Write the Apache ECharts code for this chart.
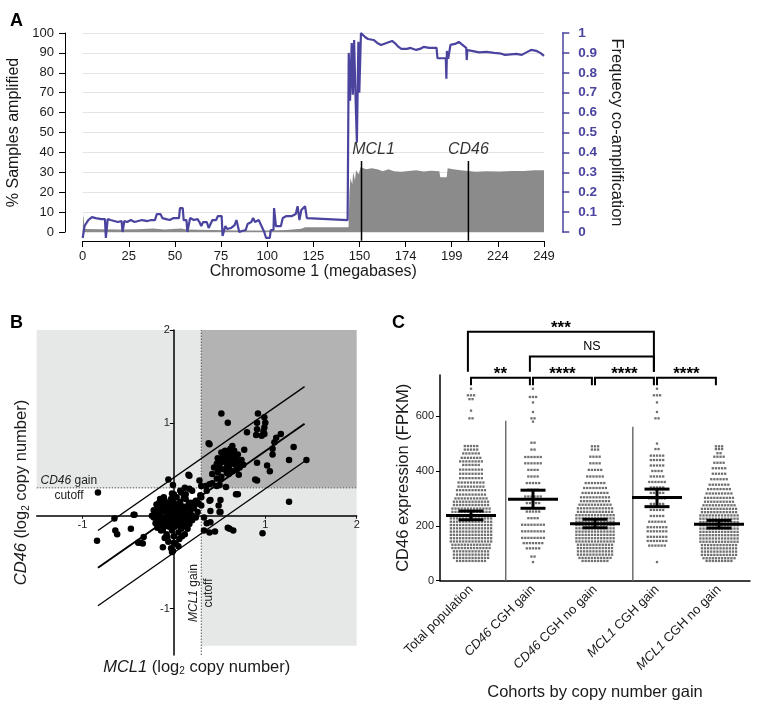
<!DOCTYPE html>
<html><head><meta charset="utf-8">
<script src="https://cdn.jsdelivr.net/npm/echarts@6/dist/echarts.min.js"></script>
<style>html,body{margin:0;padding:0;background:#fff}#c{width:767px;height:715px}</style>
</head><body><div id="c"></div>
<script>
// ---------------- Panel A data ----------------
const chrTickPos = [0, 24.9, 49.8, 74.7, 99.6, 124.5, 149.4, 174.3, 199.2, 224.1, 249];
const chrTickLabels = ['0', '25', '50', '75', '100', '125', '150', '174', '199', '224', '249'];
// % samples amplified (grey area) [Mb, %]
const ampPercent = [[0,0],[0.3,9],[0.9,9],[1.1,1.5],[10,1.4],[20,1.2],[30,1.4],[38,1.8],[44,1.3],[53,1.7],[56,1.2],[70,1.0],[85,0.8],[100,0.8],[110,1.0],[118,1.6],[120,2.4],[143.5,2.4],[144,20],[144.5,27],[145.5,24],[146,30],[147,26],[147.5,31],[149,29],[150,32.5],[153,31.5],[156,32],[159,31.5],[162,30.5],[165,31.5],[168,30.5],[172,30.3],[176,30.6],[180,31],[184,30.4],[188,30.8],[192.5,30.5],[193,27.5],[196.5,27.5],[197,32],[200,31.5],[204,31],[208,30.6],[212,30.3],[218,30.5],[225,30.4],[232,30.6],[238,30.7],[244,31],[249,31]];
// frequency of co-amplification (blue line) [Mb, freq]
const coAmpFreq = [[0,-0.03],[0.5,0.0],[1,0.03],[2,0.04],[3,0.06],[5,0.075],[7,0.07],[8,0.06],[10,0.065],[12,0.065],[12.5,-0.03],[13.3,-0.03],[13.5,0.065],[15,0.06],[17,0.055],[19,0.05],[21,0.055],[21.5,0.0],[22.2,0.0],[22.5,0.055],[24,0.05],[26,0.06],[28,0.05],[30,0.055],[32,0.06],[33,0.05],[35,0.055],[37,0.06],[39,0.06],[40,0.09],[42,0.09],[43,0.07],[45,0.065],[47,0.06],[49,0.07],[50,0.06],[52,0.07],[52.5,0.12],[54,0.12],[54.5,0.06],[56,0.06],[56.5,0.0],[57.5,0.0],[58,0.07],[60,0.06],[62,0.065],[63,0.05],[64,0.03],[65,0.05],[67,0.05],[68,0.02],[69,0.04],[70,0.06],[72,0.06],[73,0.08],[75,0.08],[75.5,-0.02],[76.5,-0.02],[77,0.03],[78,0.015],[80,0.02],[82,0.035],[83,0.06],[84,0.06],[84.5,0.0],[86,0.005],[88,0.01],[89,0.04],[91,0.05],[92,0.07],[93,0.05],[95,0.06],[96,0.04],[97,0.03],[98,0.0],[99,-0.03],[101,-0.03],[101.5,0.01],[103,0.01],[103.3,0.12],[104,0.12],[104.3,0.03],[107,0.03],[108,0.07],[110,0.08],[113,0.08],[115,0.09],[116,0.13],[117,0.06],[118,0.11],[119,0.1],[120,0.13],[121,0.07],[121.5,0.06],[143,0.06],[143.4,0.05],[143.6,0.9],[144.3,0.66],[145.2,0.95],[145.8,0.69],[146.5,0.965],[147.2,0.7],[148,0.45],[148.8,0.956],[149.3,0.7],[150.2,1.0],[151,1.0],[152.4,0.98],[154,0.97],[157,0.965],[159,0.95],[161,0.94],[162,0.93],[164,0.95],[167,0.96],[169,0.945],[170.5,0.93],[172,0.92],[175,0.92],[177,0.925],[180,0.915],[182,0.92],[184,0.93],[187,0.925],[191,0.925],[191.5,0.873],[196,0.873],[196.3,0.77],[196.6,0.91],[197.3,0.87],[198,0.87],[198.5,0.94],[201,0.945],[203,0.955],[205,0.94],[207,0.925],[207.3,0.864],[207.6,0.914],[210,0.91],[214,0.903],[218,0.905],[222,0.9],[225,0.898],[228,0.89],[231,0.893],[234,0.895],[237,0.89],[240,0.905],[242,0.915],[245,0.91],[247,0.9],[249,0.885]];
const geneNames = ['MCL1', 'CD46'];
const genePos = [150.5, 208.2];
const geneLineTop = 35.7;
const geneLineBottom = -4.4;

// ---------------- Panel B data ----------------
const gainCutoff = 0.3;
const quadXMin = -1.5, quadXMax = 2, quadYMin = -1.4, quadYMax = 2;
const fitMid = [[-0.83,-0.56],[1.43,0.99]];
const fitUpper = [[-0.83,-0.16],[1.43,1.39]];
const fitLower = [[-0.83,-0.97],[1.45,0.6]];
const cnPoints = [
[-0.83,0.25],[-0.84,-0.27],[-0.64,-0.16],[-0.62,-0.2],[-0.65,-0.03],[-0.47,-0.14],[-0.43,0.01],[-0.39,-0.29],[-0.34,-0.3],[-0.33,-0.23],[-0.36,-0.29],[-0.44,0.01],
[-0.06,0.39],[-0.01,0.33],[0.17,0.43],[0.39,0.77],[-0.12,-0.34],[-0.01,-0.38],[0,-0.29],[-0.16,0.14],[-0.18,0.05],[0.08,0.25],[0.13,0.18],[0.22,0.14],[0.3,0.2],[0.3,0.11],[0.26,0.04],[0.2,-0.05],[0.15,-0.14],[0.09,-0.22],[-0.07,-0.23],[-0.18,-0.13],[-0.22,-0.02],[-0.11,0.2],[0,0.23],[-0.02,-0.39],
[0.33,-0.16],[0.39,-0.18],[0.4,-0.07],[0.4,0.17],[0.51,0.04],[0.51,0.17],[0.7,0.23],[0.59,-0.13],[0.65,-0.16],[0.45,-0.17],[0.97,-0.19],[1.26,0.15],
[0.16,0.44],[0.17,0.29],[0.3,0.32],[0.35,0.32],[0.39,0.34],[0.42,0.35],[0.47,0.32],[0.5,0.33],[0.57,0.31],[0.51,0.39],[0.47,0.4],[0.36,0.27],[0.29,0.22],[0.24,0.16],[0.39,0.16],[0.27,0.13],[0.49,0.11],[0.4,0.05],[0.33,-0.02],[0.36,-0.08],[0.5,0.04],[0.11,0.2],[0.18,0.14],[0.07,0.27],[0.13,0.23],[0.22,0.11],[0.26,0.14],[0.12,0.3],[0.2,0.27],[0.28,0.38],
[0.52,1.1],[0.59,1.0],[0.92,1.1],[0.91,1.0],[0.99,1.06],[1.0,1.0],[0.99,0.95],[0.98,0.91],[0.99,0.88],[0.96,0.86],[0.91,0.93],[0.9,0.87],[0.8,0.9],[1.12,0.84],[1.17,0.88],[1.1,0.79],[1.08,0.72],[1.31,0.74],[1.45,0.6],[1.26,0.6],[1.08,0.66],[0.91,0.57],[1.02,0.54],[1.05,0.48],[0.89,0.39],[0.91,0.38],[0.77,0.71],[0.69,0.56],[0.38,0.78],[0.71,0.44],[0.68,0.23],[0.61,-0.14],
[0.48,0.62],[0.5,0.55],[0.52,0.68],[0.55,0.6],[0.55,0.5],[0.57,0.65],[0.58,0.56],[0.6,0.7],[0.6,0.6],[0.6,0.52],[0.62,0.64],[0.63,0.57],[0.64,0.48],[0.65,0.68],[0.66,0.6],[0.67,0.55],[0.68,0.63],[0.7,0.58],[0.7,0.66],[0.72,0.52],[0.53,0.58],[0.56,0.7],[0.62,0.72],[0.66,0.7],[0.58,0.46],[0.5,0.5],[0.47,0.56],[0.74,0.6],[0.54,0.64],[0.61,0.55],[0.69,0.5],[0.44,0.52],[0.42,0.45],[0.76,0.55],[0.6,0.45],[0.52,0.42],[0.48,0.47],[0.64,0.75],
[-0.2,0.02],[-0.18,-0.04],[-0.17,0.08],[-0.16,-0.1],[-0.15,0.0],[-0.14,0.12],[-0.13,-0.06],[-0.12,0.05],[-0.12,-0.15],[-0.11,0.1],
[-0.1,-0.02],[-0.1,0.16],[-0.09,-0.09],[-0.08,0.03],[-0.08,-0.2],[-0.07,0.08],[-0.06,-0.05],[-0.06,0.13],[-0.05,0.0],[-0.05,-0.12],
[-0.04,0.06],[-0.03,-0.03],[-0.03,0.18],[-0.02,-0.16],[-0.02,0.1],[-0.01,0.02],[-0.01,-0.08],[0,0.05],[0,-0.22],[0,0.14],
[0.01,-0.02],[0.01,-0.12],[0.02,0.08],[0.02,-0.05],[0.03,0.0],[0.03,0.2],[0.04,-0.1],[0.04,0.11],[0.05,0.03],[0.05,-0.18],
[0.06,-0.04],[0.06,0.07],[0.07,0.15],[0.07,-0.08],[0.08,0.0],[0.08,-0.14],[0.09,0.05],[0.1,-0.03],[0.1,0.1],[0.11,-0.1],
[0.12,0.02],[0.13,-0.06],[0.14,0.08],[0.15,-0.01],[0.16,0.12],[0.17,-0.09],[0.18,0.04],[0.2,0.0],[0.22,0.08],[0.24,-0.02],
[-0.22,0.06],[-0.2,-0.08],[-0.19,0.12],[-0.15,0.18],[-0.14,-0.16],[-0.1,-0.24],[-0.06,-0.28],[0.02,-0.3],[0.06,-0.25],[0.12,-0.2],
[-0.16,0.04],[-0.11,-0.04],[-0.07,-0.01],[-0.04,0.02],[-0.02,0.04],[0,-0.01],[0.02,0.01],[0.04,-0.02],[0.06,0.02],[0.09,-0.06],
[-0.13,0.1],[-0.09,0.11],[-0.05,0.09],[-0.01,0.07],[0.03,0.05],[0.07,0.04],[0.11,0.05],[-0.08,-0.11],[-0.04,-0.07],[0.0,-0.05],
[0.04,-0.06],[0.08,-0.1],[-0.12,-0.1],[0.14,-0.12],[0.18,-0.04],[0.2,0.1],[-0.24,0.0],[-0.02,0.24],[0.05,-0.33],[-0.03,-0.35]
];

// ---------------- Panel C data ----------------
const cohorts = ['Total population', 'CD46 CGH gain', 'CD46 CGH no gain', 'MCL1 CGH gain', 'MCL1 CGH no gain'];
// rows of the dot plot: [FPKM value, number of samples in that row]
const totalRows = [[700,1],[676,3],[662,2],[620,1],[592,2],[491,5],[478,5],[464,6],[448,7],[435,8],[422,6],[405,8],[390,8],[374,8],[358,9],[343,9],[330,10],[314,10],[300,11],[288,12],[276,12],[263,13],[251,13],[239,13],[227,14],[215,14],[203,14],[191,14],[179,14],[167,14],[155,14],[143,14],[131,13],[119,13],[107,12],[95,12],[83,12],[72,10]];
const cd46GainRows = [[700,1],[670,3],[650,1],[615,1],[592,2],[580,1],[503,2],[478,2],[451,6],[428,6],[404,4],[380,4],[356,5],[332,4],[307,6],[283,5],[252,5],[228,4],[204,8],[180,8],[156,8],[137,7],[118,5],[88,2],[68,1]];
const cd46NoGainRows = [[490,3],[478,3],[452,4],[428,4],[404,5],[380,6],[356,7],[338,8],[320,9],[304,10],[290,10],[277,11],[264,12],[251,12],[239,13],[227,13],[215,13],[203,13],[191,13],[179,13],[167,13],[155,13],[143,13],[131,12],[119,12],[107,12],[95,12],[83,11],[72,9]];
const mcl1GainRows = [[700,1],[676,3],[650,1],[615,1],[592,2],[500,1],[480,2],[456,5],[440,5],[420,5],[400,4],[380,5],[360,6],[340,5],[320,5],[300,6],[280,5],[258,5],[236,5],[215,6],[195,7],[180,7],[160,7],[145,7],[128,6],[68,1]];
const mcl1NoGainRows = [[490,3],[480,3],[465,2],[452,4],[430,4],[410,5],[390,5],[370,6],[350,7],[334,8],[318,9],[302,10],[288,10],[275,11],[262,12],[250,12],[238,13],[226,13],[214,13],[202,13],[190,13],[178,13],[166,13],[154,13],[142,13],[130,12],[118,12],[106,12],[94,12],[82,11],[72,9]];
const cohortMean = [238, 297, 208, 303, 206];
const cohortLow = [222, 264, 193, 270, 192];
const cohortHigh = [254, 330, 224, 334, 220];
const separatorPos = [0.56, 2.61];
const separatorTop = [583, 561];
const sigFrom = [0, 1, 2, 3, 1, 0];
const sigTo = [1, 2, 3, 4, 3, 3];
const sigLevel = [0, 0, 0, 0, 1, 2];
const sigText = ['**', '****', '****', '****', 'NS', '***'];

// ---------------- styles ----------------
const FONT = '"Liberation Sans", Arial, Helvetica, sans-serif';
const BLUE = '#4a449f';
const TXT = '#1a1a1a';
const LIGHT = '#e6e7e7';
const DARK = '#b3b3b3';
const SWARM_STEP = 0.05;
const levelY = [740, 817, 908];
const levelLeg = [713, 762, 762];
// panel B grid geometry (px) and where its axes cross (value 0)
const gB = {left: 36.7, top: 330, width: 320, height: 325};
const bXRange = [-1.5, 2], bYRange = [-1.5, 2];
const bXAxisShift = -gB.height * (0 - bYRange[0]) / (bYRange[1] - bYRange[0]);
const bYAxisShift = -gB.width * (0 - bXRange[0]) / (bXRange[1] - bXRange[0]);

function nearestIdx(v, arr) {
  let best = 0;
  for (let i = 1; i < arr.length; i++) if (Math.abs(arr[i] - v) < Math.abs(arr[best] - v)) best = i;
  return best;
}
function swarm(rows, idx) {
  const pts = [];
  rows.forEach(function (r) {
    const n = r[1];
    for (let k = 0; k < n; k++) pts.push([idx + (k - (n - 1) / 2) * SWARM_STEP, r[0]]);
  });
  return pts;
}
const swarmData = [].concat(
  swarm(totalRows, 0), swarm(cd46GainRows, 1), swarm(cd46NoGainRows, 2),
  swarm(mcl1GainRows, 3), swarm(mcl1NoGainRows, 4));
const statData = cohortMean.map((m, i) => [i, m, cohortLow[i], cohortHigh[i]]);
const sepData = separatorPos.map((p, i) => [p, separatorTop[i]]);
const sigData = sigFrom.map((a, i) => [a, sigTo[i], sigLevel[i]]);
const italicize = s => s.replace(/^(CD46|MCL1)/, '{i|$1}');

const chart = echarts.init(document.getElementById('c'), null, {renderer: 'canvas', width: 767, height: 715});

const option = {
  animation: false,
  backgroundColor: '#fff',
  textStyle: {fontFamily: FONT},
  grid: [
    {left: 82.7, top: 33, width: 461.3, height: 199, outerBoundsMode: 'none', containLabel: false},
    {left: gB.left, top: gB.top, width: gB.width, height: gB.height, outerBoundsMode: 'none', containLabel: false},
    {left: 440, top: 375, width: 310, height: 205.7, outerBoundsMode: 'none', containLabel: false}
  ],
  xAxis: [
    {gridIndex: 0, type: 'value', min: 0, max: 249, offset: 9,
      axisLine: {onZero: false, lineStyle: {color: '#000', width: 1}},
      axisTick: {customValues: chrTickPos, length: 6, lineStyle: {color: '#000'}},
      axisLabel: {customValues: chrTickPos, formatter: v => chrTickLabels[nearestIdx(v, chrTickPos)], fontSize: 13, color: TXT, margin: 9},
      splitLine: {show: false},
      name: 'Chromosome 1 (megabases)', nameLocation: 'middle', nameGap: 23, nameTextStyle: {fontSize: 16, color: TXT}},
    {gridIndex: 1, type: 'value', min: bXRange[0], max: bXRange[1], z: 10, position: 'bottom', offset: bXAxisShift,
      axisLine: {onZero: false, lineStyle: {color: '#000', width: 1.5}},
      axisTick: {customValues: [-1, 1, 2], length: 3, lineStyle: {color: '#000'}},
      axisLabel: {customValues: [-1, 1, 2], fontSize: 11, color: '#222', margin: 4},
      splitLine: {show: false},
      name: '{i|MCL1} (log{s|2} copy number)', nameLocation: 'middle', nameGap: 143,
      nameTextStyle: {fontSize: 16.5, color: TXT, rich: {i: {fontStyle: 'italic', fontSize: 16.5, color: TXT}, s: {fontSize: 10, color: TXT, padding: [8, 0, 0, 0]}}}},
    {gridIndex: 2, type: 'category', data: cohorts, boundaryGap: true,
      axisLine: {onZero: false, lineStyle: {color: '#000', width: 1.5}},
      axisTick: {alignWithLabel: true, length: 5, lineStyle: {color: '#000'}},
      axisLabel: {interval: 0, rotate: 45, fontSize: 13, color: TXT, margin: 7, formatter: italicize,
        rich: {i: {fontStyle: 'italic', fontSize: 13, color: TXT}}},
      name: 'Cohorts by copy number gain', nameLocation: 'middle', nameGap: 103, nameTextStyle: {fontSize: 16.5, color: TXT}},
    {gridIndex: 2, type: 'value', min: -0.5, max: 4.5, show: false}
  ],
  yAxis: [
    {gridIndex: 0, type: 'value', min: 0, max: 100, interval: 10, position: 'left', offset: 17.7,
      axisLine: {show: true, onZero: false, lineStyle: {color: '#000', width: 1}},
      axisTick: {show: true, length: 6, lineStyle: {color: '#000'}},
      axisLabel: {fontSize: 13, color: TXT, margin: 11},
      splitLine: {show: true, lineStyle: {color: '#e4e4e4', width: 1}},
      name: '% Samples amplified', nameLocation: 'middle', nameGap: 37, nameTextStyle: {fontSize: 16, color: TXT}},
    {gridIndex: 0, type: 'value', min: 0, max: 1, interval: 0.1, position: 'right', offset: 18.3,
      axisLine: {show: true, onZero: false, lineStyle: {color: BLUE, width: 1.5}},
      axisTick: {show: true, length: 7, lineStyle: {color: BLUE, width: 1.5}},
      axisLabel: {fontSize: 13.5, fontWeight: 'bold', color: BLUE, margin: 16},
      splitLine: {show: false},
      name: 'Frequecy co-amplification', nameLocation: 'middle', nameRotate: -90, nameGap: 46, nameTextStyle: {fontSize: 16.5, color: TXT}},
    {gridIndex: 1, type: 'value', min: bYRange[0], max: bYRange[1], z: 10, position: 'left', offset: bYAxisShift,
      axisLine: {onZero: false, lineStyle: {color: '#000', width: 1.5}},
      axisTick: {customValues: [-1, 1, 2], length: 4, lineStyle: {color: '#000'}},
      axisLabel: {customValues: [-1, 1, 2], fontSize: 11, color: '#222', margin: 4},
      splitLine: {show: false},
      name: '{i|CD46} (log{s|2} copy number)', nameLocation: 'middle', nameGap: 143,
      nameTextStyle: {fontSize: 16.5, color: TXT, rich: {i: {fontStyle: 'italic', fontSize: 16.5, color: TXT}, s: {fontSize: 10, color: TXT, padding: [8, 0, 0, 0]}}}},
    {gridIndex: 2, type: 'value', min: 0, max: 750,
      axisLine: {show: true, onZero: false, lineStyle: {color: '#000', width: 1.5}},
      axisTick: {show: true, customValues: [0, 200, 400, 600], length: 4, lineStyle: {color: '#000'}},
      axisLabel: {customValues: [0, 200, 400, 600], fontSize: 11, color: '#222', margin: 6},
      splitLine: {show: false},
      name: 'CD46 expression (FPKM)', nameLocation: 'middle', nameGap: 27, nameTextStyle: {fontSize: 16.5, color: TXT}}
  ],
  series: [
    // ---- A ----
    {type: 'line', xAxisIndex: 0, yAxisIndex: 0, data: ampPercent, symbol: 'none',
      lineStyle: {width: 0}, areaStyle: {color: '#8b8b8b', opacity: 1}, z: 2},
    {type: 'line', xAxisIndex: 0, yAxisIndex: 1, data: coAmpFreq, symbol: 'none', clip: false,
      lineStyle: {color: BLUE, width: 2.2}, z: 4},
  ].concat(genePos.map(p => ({
      type: 'line', xAxisIndex: 0, yAxisIndex: 0, data: [[p, geneLineTop], [p, geneLineBottom]],
      symbol: 'none', clip: false, lineStyle: {color: '#000', width: 1.5}, z: 5}))
  ).concat([
    {type: 'scatter', xAxisIndex: 0, yAxisIndex: 0, symbolSize: 0,
      data: genePos.map((p, i) => ({value: [p, geneLineTop], name: geneNames[i],
        label: {offset: [geneNames[i] === 'MCL1' ? 12 : 0, 0]}})),
      label: {show: true, position: 'top', distance: 3, formatter: '{b}', fontStyle: 'italic', fontSize: 16, color: '#000'}, z: 6},
    // ---- B ----
    {type: 'line', xAxisIndex: 1, yAxisIndex: 2, data: [[gainCutoff, quadYMin - 0.1], [gainCutoff, quadYMax]], symbol: 'none',
      lineStyle: {color: '#555', width: 1, type: [1.5, 1.5]}, z: 3,
      markArea: {silent: true, data: [
        [{coord: [quadXMin, gainCutoff], itemStyle: {color: LIGHT, opacity: 1}}, {coord: [gainCutoff, quadYMax]}],
        [{coord: [gainCutoff, gainCutoff], itemStyle: {color: DARK, opacity: 1}}, {coord: [quadXMax, quadYMax]}],
        [{coord: [gainCutoff, quadYMin], itemStyle: {color: LIGHT, opacity: 1}}, {coord: [quadXMax, gainCutoff]}]
      ]}},
    {type: 'line', xAxisIndex: 1, yAxisIndex: 2, data: [[quadXMin, gainCutoff], [quadXMax, gainCutoff]], symbol: 'none',
      lineStyle: {color: '#555', width: 1, type: [1.5, 1.5]}, z: 3},
    {type: 'line', xAxisIndex: 1, yAxisIndex: 2, data: fitMid, symbol: 'none', lineStyle: {color: '#000', width: 2}, z: 4},
    {type: 'line', xAxisIndex: 1, yAxisIndex: 2, data: fitUpper, symbol: 'none', lineStyle: {color: '#000', width: 1.3}, z: 4},
    {type: 'line', xAxisIndex: 1, yAxisIndex: 2, data: fitLower, symbol: 'none', lineStyle: {color: '#000', width: 1.3}, z: 4},
    {type: 'scatter', xAxisIndex: 1, yAxisIndex: 2, data: cnPoints, symbolSize: 6.5, itemStyle: {color: '#000', opacity: 1}, z: 6},
    // ---- C ----
    {type: 'custom', xAxisIndex: 3, yAxisIndex: 3, data: sepData, z: 2,
      renderItem: function (params, api) {
        const a = api.coord([api.value(0), 0]), b = api.coord([api.value(0), api.value(1)]);
        return {type: 'line', shape: {x1: a[0], y1: a[1], x2: b[0], y2: b[1]}, style: {stroke: '#6e6e6e', lineWidth: 1.5}};
      }},
    {type: 'scatter', xAxisIndex: 3, yAxisIndex: 3, data: swarmData, symbol: 'rect', symbolSize: 2.3,
      itemStyle: {color: '#707070', opacity: 1}, z: 3},
    {type: 'custom', xAxisIndex: 3, yAxisIndex: 3, data: statData, z: 5,
      renderItem: function (params, api) {
        const x = api.value(0);
        const pm = api.coord([x, api.value(1)]), pl = api.coord([x, api.value(2)]), ph = api.coord([x, api.value(3)]);
        const st = {stroke: '#000', lineWidth: 3};
        return {type: 'group', children: [
          {type: 'line', shape: {x1: pm[0] - 25, y1: pm[1], x2: pm[0] + 25, y2: pm[1]}, style: st},
          {type: 'line', shape: {x1: pl[0], y1: pl[1], x2: ph[0], y2: ph[1]}, style: st},
          {type: 'line', shape: {x1: pl[0] - 12.5, y1: pl[1], x2: pl[0] + 12.5, y2: pl[1]}, style: st},
          {type: 'line', shape: {x1: ph[0] - 12.5, y1: ph[1], x2: ph[0] + 12.5, y2: ph[1]}, style: st}
        ]};
      }},
    {type: 'custom', xAxisIndex: 3, yAxisIndex: 3, data: sigData, z: 5, clip: false,
      renderItem: function (params, api) {
        const a = api.value(0), b = api.value(1), lv = api.value(2);
        const x1 = lv === 0 ? a : a - 0.05, x2 = b - 0.05;
        const p1 = api.coord([x1, levelLeg[lv]]), p2 = api.coord([x1, levelY[lv]]);
        const p3 = api.coord([x2, levelY[lv]]), p4 = api.coord([x2, levelLeg[lv]]);
        const txt = sigText[params.dataIndex];
        const star = txt.indexOf('*') >= 0;
        return {type: 'group', children: [
          {type: 'polyline', shape: {points: [p1, p2, p3, p4]}, style: {stroke: '#000', lineWidth: 2, fill: null}},
          {type: 'text', x: (p2[0] + p3[0]) / 2, y: p2[1] - (star ? 3 : 10),
            style: {text: txt, align: 'center', verticalAlign: 'middle', fontFamily: FONT,
              fontSize: star ? 17 : 12.5, fontWeight: star ? 'bold' : 'normal', fill: '#000'}}
        ]};
      }}
  ]),
  graphic: [
    {type: 'text', left: 10, top: 12, style: {text: 'A', fontFamily: FONT, fontSize: 18, fontWeight: 'bold', fill: '#000'}},
    {type: 'text', left: 10, top: 314, style: {text: 'B', fontFamily: FONT, fontSize: 18, fontWeight: 'bold', fill: '#000'}},
    {type: 'text', left: 392, top: 314, style: {text: 'C', fontFamily: FONT, fontSize: 18, fontWeight: 'bold', fill: '#000'}},
    {type: 'text', x: 40.5, y: 481, z: 20, style: {text: '{i|CD46} gain', align: 'left', verticalAlign: 'middle', fontFamily: FONT, fontSize: 12, fill: '#222',
      rich: {i: {fontStyle: 'italic', fontSize: 12, fill: '#222'}}}},
    {type: 'text', x: 69, y: 496, z: 20, style: {text: 'cutoff', align: 'center', verticalAlign: 'middle', fontFamily: FONT, fontSize: 12, fill: '#222'}},
    {type: 'text', x: 193.5, y: 593, rotation: Math.PI / 2, z: 20, style: {text: '{i|MCL1} gain', align: 'center', verticalAlign: 'middle', fontFamily: FONT, fontSize: 12, fill: '#222',
      rich: {i: {fontStyle: 'italic', fontSize: 12, fill: '#222'}}}},
    {type: 'text', x: 208.5, y: 593, rotation: Math.PI / 2, z: 20, style: {text: 'cutoff', align: 'center', verticalAlign: 'middle', fontFamily: FONT, fontSize: 12, fill: '#222'}}
  ]
};
chart.setOption(option);
</script>
</body></html>
